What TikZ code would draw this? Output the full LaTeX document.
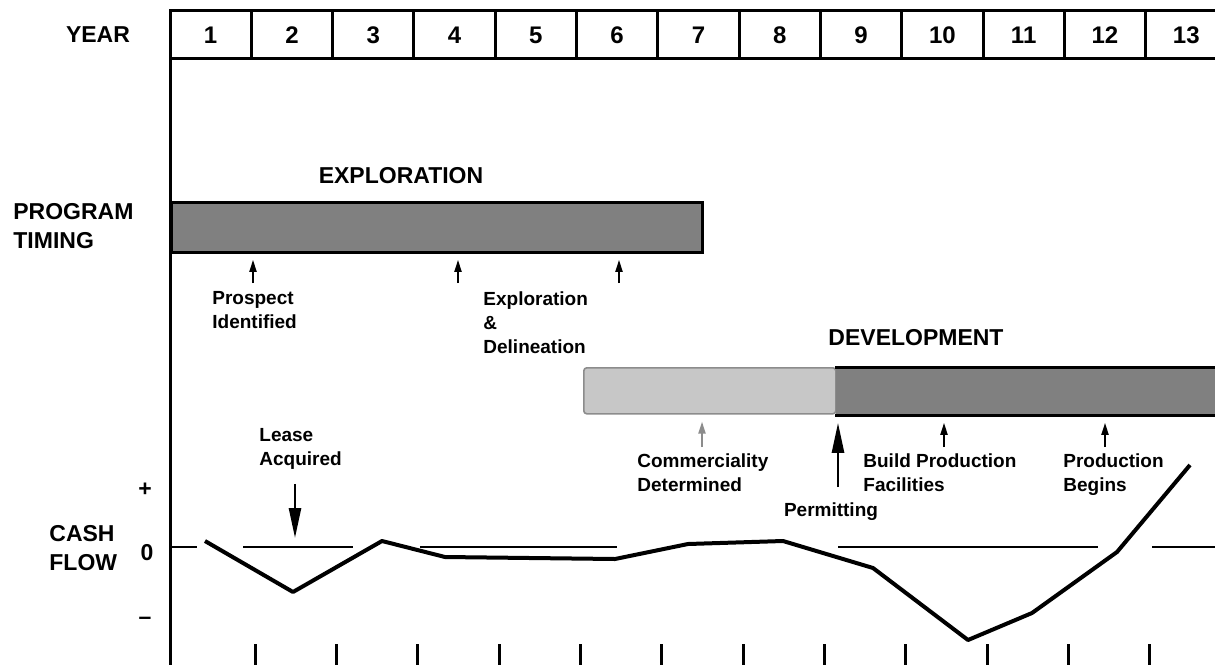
\documentclass[tikz,border=0pt]{standalone}
\usepackage{fontspec}
\setmainfont{Liberation Sans}
\usepackage{tikz}
\usetikzlibrary{arrows.meta,calc}

\tikzset{
  frame/.style={line width=1.5pt},
  big/.style={font=\bfseries\fontsize{11.5}{14.5}\selectfont, inner sep=0pt},
  yr/.style={font=\bfseries\fontsize{12}{14}\selectfont, inner sep=0pt},
  note/.style={font=\bfseries\fontsize{9.5}{12}\selectfont, align=left, anchor=north west, inner sep=0pt},
  bar/.style={anchor=north west, inner sep=0pt, line width=1.4pt},
  uparr/.style={line width=1pt, -{Triangle[length=6pt,width=3.5pt]}},
  bigarr/.style={line width=1.3pt, -{Triangle[length=15pt,width=6pt]}},
  cash/.style={line width=2pt, line join=round},
  zero/.style={line width=0.9pt},
}

\begin{document}
\begin{tikzpicture}[x=0.5pt,y=-0.5pt]
  \useasboundingbox (0,0) rectangle (1215,665);
  \draw[frame] (1225,10) -- (170,10) -- (170,665) (170,58) -- (1225,58);
  \foreach \i in {1,...,12}
    \draw[frame] ({170+81.3*\i},10) -- ({170+81.3*\i},58)
      ({174+81.3*\i},644) -- ({174+81.3*\i},665);
  \foreach \i in {1,...,13}
    \node[yr] (y\i) at ({170+81.3*(\i-0.5)},35) {\i};

  \draw
    (98,35) node[big](year) {YEAR}
    (13,226) node[big,anchor=west,align=left](timing) {PROGRAM\\TIMING}
    (49,548) node[big,anchor=west,align=left](cashflow) {CASH\\FLOW}
    (145,490) node[big](plus) {+}
    (147,553) node[big](nought) {0}
    (145,621) node[big](minus) {--};

  \node[bar, draw, fill=black!50, minimum width=265.5pt, minimum height=25pt] (ebar) at (170,201) {};
  \node[bar, draw=black!45, fill=black!22, rounded corners=1.5pt, line width=0.8pt,
        minimum width=126pt, minimum height=23pt] (dlight) at (583,367) {};
  \node[bar, fill=black!50, minimum width=195pt, minimum height=23pt] (ddark) at (835,367) {};
  \draw[frame] (ddark.north west) -- (ddark.north east) (ddark.south west) -- (ddark.south east);
  \node[big] (explab) at (401,176) {EXPLORATION};
  \node[big] (devlab) at (916,338) {DEVELOPMENT};

  \node[note] (prospect) at (212,291) {Prospect\\Identified};
  \node[note] (delin) at (483,291) {Exploration\\\&\\Delineation};
  \node[note] (lease) at (259,428) {Lease\\Acquired};
  \node[note] (commerc) at (637,453) {Commerciality\\Determined};
  \node[note] (build) at (863,453) {Build Production\\Facilities};
  \node[note] (prodn) at (1063,453) {Production\\Begins};
  \node[note, anchor=center] (permit) at (831,512) {Permitting};

  \coordinate (a1) at (253,283);
  \coordinate (a2) at (458,283);
  \coordinate (a3) at (619,283);
  \coordinate (c1) at (702,447);
  \coordinate (b1) at (944,447);
  \coordinate (b2) at (1105,447);
  \coordinate (pm) at (838,487);
  \coordinate (lz) at (295,538);
  \draw[uparr] (a1) -- ([yshift=-3pt]ebar.south -| a1);
  \draw[uparr] (a2) -- ([yshift=-3pt]ebar.south -| a2);
  \draw[uparr] (a3) -- ([yshift=-3pt]ebar.south -| a3);
  \draw[uparr, black!45] (c1) -- ([yshift=-3.5pt]dlight.south -| c1);
  \draw[uparr] (b1) -- ([yshift=-3.5pt]ddark.south -| b1);
  \draw[uparr] (b2) -- ([yshift=-3.5pt]ddark.south -| b2);
  \draw[bigarr] (pm) -- ([yshift=-3.5pt]ddark.south -| pm);
  \draw[bigarr] ([yshift=-7pt]lease.south -| lz) -- (lz);

  \draw[zero] (170,547) -- (197,547) (243,547) -- (353,547) (420,547) -- (617,547)
    (838,547) -- (1098,547) (1152,547) -- (1225,547);
  \draw[cash] plot coordinates {(205,541) (293,592) (382,541) (445,557) (615,559) (688,544)
    (783,541) (873,568) (968,640) (1032,613) (1117,552) (1190,465)};
\end{tikzpicture}
\end{document}
